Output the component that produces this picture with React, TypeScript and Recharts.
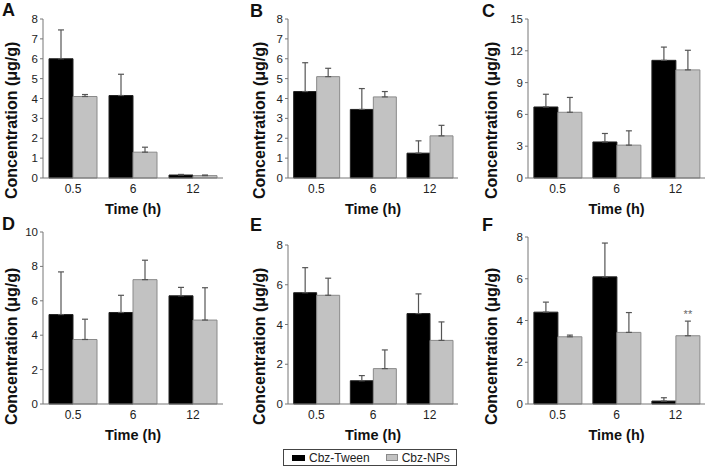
import React from "react";
import { BarChart, Bar, XAxis, YAxis, ErrorBar, LabelList, Label } from "recharts";

const times = ["0.5", "6", "12"];

// values (µg/g), error = upper SD
const tweenA = [6.0, 4.15, 0.15];
const tweenErrA = [1.45, 1.07, 0.03];
const npsA = [4.1, 1.3, 0.12];
const npsErrA = [0.1, 0.25, 0.03];

const tweenB = [4.35, 3.45, 1.25];
const tweenErrB = [1.45, 1.05, 0.62];
const npsB = [5.1, 4.08, 2.12];
const npsErrB = [0.42, 0.27, 0.53];

const tweenC = [6.7, 3.4, 11.1];
const tweenErrC = [1.2, 0.8, 1.25];
const npsC = [6.2, 3.1, 10.2];
const npsErrC = [1.4, 1.35, 1.85];

const tweenD = [5.2, 5.32, 6.29];
const tweenErrD = [2.48, 1.0, 0.49];
const npsD = [3.75, 7.23, 4.88];
const npsErrD = [1.18, 1.13, 1.88];

const tweenE = [5.6, 1.17, 4.55];
const tweenErrE = [1.26, 0.26, 0.99];
const npsE = [5.47, 1.78, 3.2];
const npsErrE = [0.86, 0.94, 0.93];

const tweenF = [4.4, 6.09, 0.14];
const tweenErrF = [0.48, 1.62, 0.16];
const npsF = [3.22, 3.43, 3.27];
const npsErrF = [0.08, 0.95, 0.7];
const marksF = ["", "", "**"];

const ticks8 = [0, 1, 2, 3, 4, 5, 6, 7, 8];
const ticks15 = [0, 3, 6, 9, 12, 15];
const ticks10 = [0, 2, 4, 6, 8, 10];
const ticks8by2 = [0, 2, 4, 6, 8];

const FONT = "'Liberation Sans', Arial, Helvetica, sans-serif";

const rows = (
  tween: number[],
  tweenErr: number[],
  nps: number[],
  npsErr: number[],
  marks: string[] = []
) =>
  times.map((t, i) => ({
    time: t,
    tween: tween[i],
    tweenErr: [0, tweenErr[i]],
    nps: nps[i],
    npsErr: [0, npsErr[i]],
    mark: marks[i] || "",
  }));

// letterX is relative to the panel's own box
const cols = [
  { left: 0, width: 235, yWidth: 43, right: 12, dist: 32, letterX: 2 },
  { left: 235, width: 235, yWidth: 53, right: 12, dist: 29, letterX: 15 },
  { left: 465, width: 240, yWidth: 63, right: 0, dist: 37, letterX: 17 },
];

const panels = [
  { letter: "A", col: 0, top: 0, letterY: 1, mTop: 19, plotBottom: 178, data: rows(tweenA, tweenErrA, npsA, npsErrA), max: 8, ticks: ticks8 },
  { letter: "B", col: 1, top: 0, letterY: 2, mTop: 19, plotBottom: 178, data: rows(tweenB, tweenErrB, npsB, npsErrB), max: 8, ticks: ticks8 },
  { letter: "C", col: 2, top: 0, letterY: 2, mTop: 19, plotBottom: 178, data: rows(tweenC, tweenErrC, npsC, npsErrC), max: 15, ticks: ticks15 },
  { letter: "D", col: 0, top: 218, letterY: -3, mTop: 14, plotBottom: 404, data: rows(tweenD, tweenErrD, npsD, npsErrD), max: 10, ticks: ticks10 },
  { letter: "E", col: 1, top: 218, letterY: -2, mTop: 27, plotBottom: 404, data: rows(tweenE, tweenErrE, npsE, npsErrE), max: 8, ticks: ticks8by2 },
  { letter: "F", col: 2, top: 218, letterY: -2, mTop: 19, plotBottom: 404, data: rows(tweenF, tweenErrF, npsF, npsErrF, marksF), max: 8, ticks: ticks8by2 },
];

const yLabel = (dist: number) => (props: any) => {
  const vb = props.viewBox || {};
  const x = vb.x + vb.width - dist;
  const y = vb.y + vb.height + 21;
  return (
    <text
      x={x}
      y={y}
      transform={`rotate(-90 ${x} ${y})`}
      textAnchor="start"
      dominantBaseline="central"
      fontSize={16}
      fontWeight="bold"
      fill="#111"
      fontFamily={FONT}
    >
      Concentration (μg/g)
    </text>
  );
};

const Panel = ({ p }: { p: (typeof panels)[number] }) => {
  const c = cols[p.col];
  const height = p.plotBottom - p.top + 40;
  return (
    <div style={{ position: "absolute", left: c.left, top: p.top }}>
      <BarChart
        width={c.width}
        height={height}
        data={p.data}
        margin={{ top: p.mTop, right: c.right, bottom: 0, left: 0 }}
        barGap={0}
        barCategoryGap="10%"
      >
        <XAxis
          dataKey="time"
          height={40}
          tickLine={false}
          tickSize={4}
          tickMargin={2}
          axisLine={{ stroke: "#777" }}
          tick={{ fill: "#222", fontSize: 12, fontFamily: FONT }}
          interval={0}
        >
          <Label
            value="Time (h)"
            position="insideBottom"
            offset={4}
            style={{ fontSize: 14.5, fontWeight: "bold", fill: "#111", fontFamily: FONT }}
          />
        </XAxis>
        <YAxis
          width={c.yWidth}
          domain={[0, p.max]}
          ticks={p.ticks}
          interval={0}
          tickSize={3}
          tickMargin={2}
          axisLine={{ stroke: "#777" }}
          tickLine={{ stroke: "#777" }}
          tick={{ fill: "#222", fontSize: 11.5, fontFamily: FONT }}
        >
          <Label content={yLabel(c.dist)} />
        </YAxis>
        <Bar dataKey="tween" fill="#000" stroke="#222" strokeWidth={1} isAnimationActive={false}>
          <ErrorBar dataKey="tweenErr" direction="y" width={3} stroke="#555" strokeWidth={1.2} />
        </Bar>
        <Bar dataKey="nps" fill="#c2c2c2" stroke="#8a8a8a" strokeWidth={1} isAnimationActive={false}>
          <ErrorBar dataKey="npsErr" direction="y" width={3} stroke="#555" strokeWidth={1.2} />
          <LabelList dataKey="mark" position="top" offset={18} fill="#666" fontSize={11} fontFamily={FONT} />
        </Bar>
      </BarChart>
      <div
        style={{
          position: "absolute",
          left: c.letterX,
          top: p.letterY,
          fontFamily: FONT,
          fontWeight: "bold",
          fontSize: 18,
          lineHeight: "18px",
          color: "#111",
        }}
      >
        {p.letter}
      </div>
    </div>
  );
};

export default function App() {
  return (
    <div
      style={{
        position: "absolute",
        left: 0,
        top: 0,
        width: 705,
        height: 471,
        background: "#fff",
        fontFamily: FONT,
      }}
    >
      {panels.map((p) => (
        <Panel key={p.letter} p={p} />
      ))}
      <div
        style={{
          position: "absolute",
          left: 283,
          top: 449,
          width: 172,
          height: 15,
          border: "1px solid #444",
          display: "flex",
          alignItems: "center",
          fontSize: 12,
          color: "#222",
        }}
      >
        <span style={{ width: 13, height: 6, background: "#000", marginLeft: 8, marginRight: 4 }} />
        <span>Cbz-Tween</span>
        <span
          style={{
            width: 10,
            height: 5,
            background: "#c2c2c2",
            border: "1px solid #8a8a8a",
            marginLeft: 16,
            marginRight: 4,
          }}
        />
        <span>Cbz-NPs</span>
      </div>
    </div>
  );
}
